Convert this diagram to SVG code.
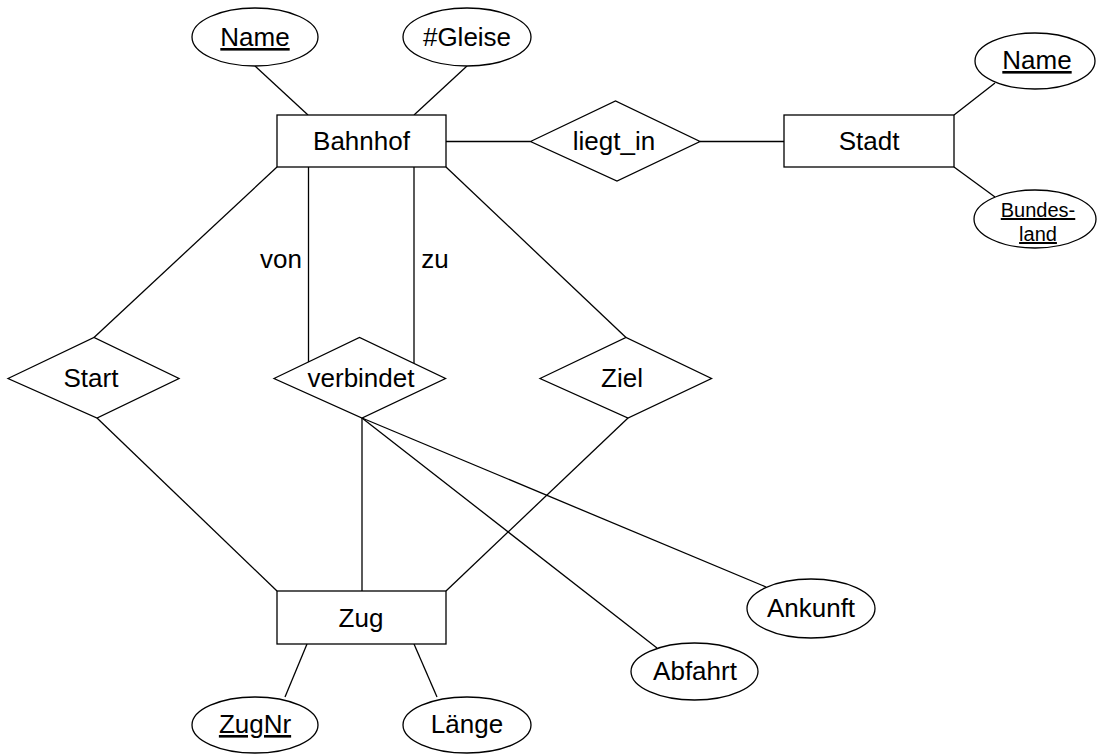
<svg xmlns="http://www.w3.org/2000/svg" width="1098" height="754" viewBox="0 0 1098 754">
<style>
.s{fill:#fff;stroke:#000;stroke-width:1.3}
.c line{stroke:#000;stroke-width:1.3}
text{font-family:"Liberation Sans",Arial,Helvetica,sans-serif;font-size:26px;fill:#000;text-anchor:middle}
.sm{font-size:20px}
.u{text-decoration:underline}
</style>
<rect width="1098" height="754" fill="#fff"/>
<g id="connectors" class="c">
<line x1="255" y1="66" x2="308" y2="115"/>
<line x1="467" y1="66" x2="414" y2="115"/>
<line x1="446" y1="141.5" x2="530.5" y2="141.5"/>
<line x1="700" y1="141.5" x2="784" y2="141.5"/>
<line x1="954" y1="115" x2="995" y2="83"/>
<line x1="954" y1="167" x2="995" y2="197"/>
<line x1="277" y1="167" x2="94" y2="337.5"/>
<line x1="446" y1="167" x2="626" y2="337.5"/>
<line x1="308.5" y1="167" x2="308.5" y2="362.5"/>
<line x1="414" y1="167" x2="414" y2="363"/>
<line x1="97" y1="418" x2="277" y2="591"/>
<line x1="628" y1="418" x2="446" y2="591"/>
<line x1="362" y1="418" x2="362" y2="591"/>
<line x1="362" y1="418" x2="766" y2="587"/>
<line x1="362" y1="418" x2="657" y2="648"/>
<line x1="307" y1="644" x2="285" y2="697"/>
<line x1="414" y1="644" x2="437" y2="697"/>
</g>
<text x="281" y="268">von</text>
<text x="435" y="268">zu</text>
<g id="bahnhof"><rect class="s" x="277" y="115" width="169" height="52"/><text x="361.5" y="150">Bahnhof</text></g>
<g id="bahnhof-name"><ellipse class="s" cx="255" cy="37" rx="63" ry="29"/><text class="u" x="255" y="46">Name</text></g>
<g id="gleise"><ellipse class="s" cx="467" cy="37" rx="64" ry="29"/><text x="467" y="46">#Gleise</text></g>
<g id="liegt_in"><polygon class="s" points="530.5,141.5 615.5,101 700,141.5 617,181"/><text x="614" y="150">liegt_in</text></g>
<g id="stadt"><rect class="s" x="784" y="115" width="170" height="52"/><text x="869" y="150">Stadt</text></g>
<g id="stadt-name"><ellipse class="s" cx="1035" cy="61" rx="60" ry="28"/><text class="u" x="1037" y="69">Name</text></g>
<g id="bundesland"><ellipse class="s" cx="1035" cy="219" rx="61" ry="29"/><text class="sm u" x="1038" y="217">Bundes-</text><text class="sm u" x="1038" y="241">land</text></g>
<g id="start"><polygon class="s" points="8,378.5 94,337.5 179,378.5 97,418"/><text x="91" y="387">Start</text></g>
<g id="verbindet"><polygon class="s" points="274,378.5 359.5,337.5 445.5,378.5 362,418"/><text x="361" y="387">verbindet</text></g>
<g id="ziel"><polygon class="s" points="540,378.5 626,337.5 711.5,378.5 628,418"/><text x="622" y="387">Ziel</text></g>
<g id="zug"><rect class="s" x="277" y="591" width="169" height="53"/><text x="361" y="627">Zug</text></g>
<g id="zugnr"><ellipse class="s" cx="255" cy="725" rx="63" ry="28"/><text class="u" x="255" y="733">ZugNr</text></g>
<g id="laenge"><ellipse class="s" cx="467" cy="725" rx="64" ry="28"/><text x="467" y="733">Länge</text></g>
<g id="ankunft"><ellipse class="s" cx="811" cy="608.5" rx="64" ry="29.5"/><text x="811" y="617">Ankunft</text></g>
<g id="abfahrt"><ellipse class="s" cx="694.5" cy="671.5" rx="63.5" ry="28.5"/><text x="695" y="680">Abfahrt</text></g>
</svg>
